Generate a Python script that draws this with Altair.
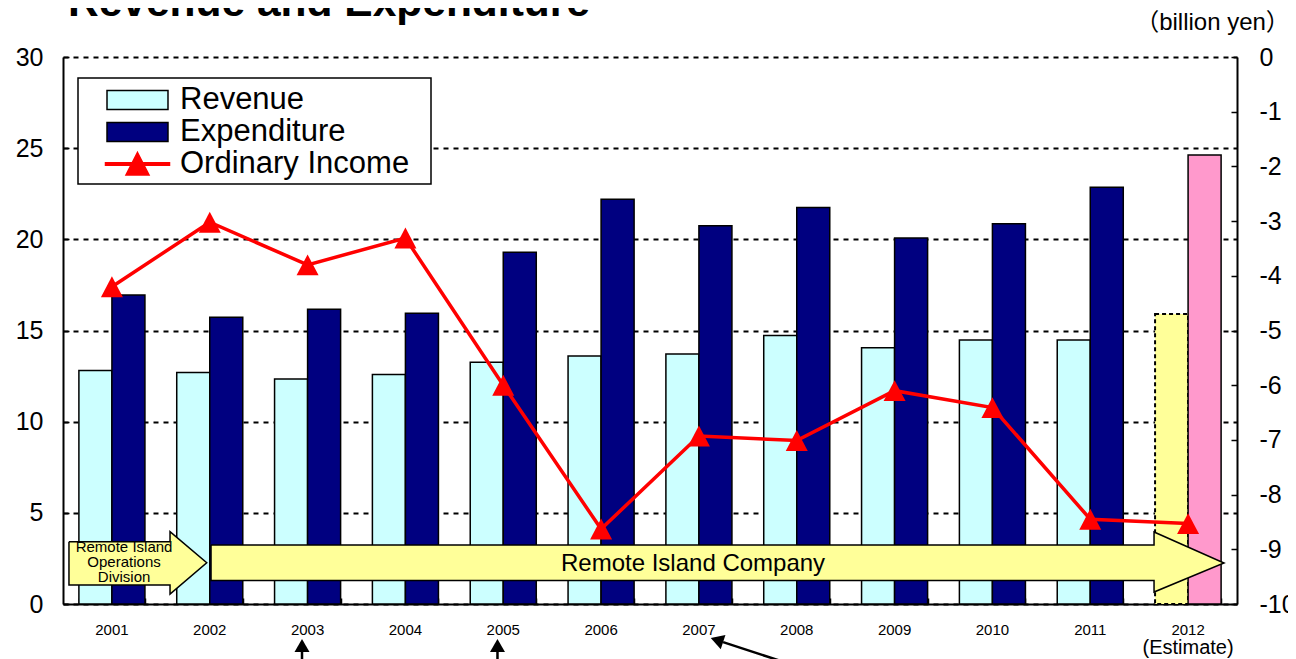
import altair as alt
import pandas as pd

# ---------------- data ----------------
years = ['2001', '2002', '2003', '2004', '2005', '2006',
         '2007', '2008', '2009', '2010', '2011', '2012']
revenue = [12.80, 12.69, 12.34, 12.58, 13.26, 13.60, 13.71, 14.72, 14.06, 14.48, 14.48, 15.91]
expenditure = [16.95, 15.72, 16.16, 15.94, 19.29, 22.20, 20.75, 21.74, 20.07, 20.86, 22.85, 24.63]
ordinary_income = [-4.20, -3.02, -3.80, -3.31, -6.00, -8.63, -6.93, -7.01, -6.10, -6.41, -8.45, -8.53]
estimate_year = '2012'

chart_title = 'Revenue and Expenditure'
series_names = ['Revenue', 'Expenditure', 'Ordinary Income']
series_fill = ['#CCFFFF', '#000080', '#FF0000']
series_stroke = ['black', 'black', '#FF0000']

left_ticks = [0, 5, 10, 15, 20, 25, 30]
right_ticks = [0, -1, -2, -3, -4, -5, -6, -7, -8, -9, -10]

# annotations (x: category position 1..12, y: left axis units)
division_arrow_x = [0.561, 1.594, 1.594, 1.969, 1.594, 1.594, 0.561, 0.561]
division_arrow_y = [3.417, 3.417, 3.965, 2.265, 0.548, 1.042, 1.042, 3.417]
company_arrow_x = [2.013, 11.652, 11.652, 12.367, 11.652, 11.652, 2.013, 2.013]
company_arrow_y = [3.236, 3.236, 3.949, 2.249, 0.658, 1.289, 1.289, 3.236]

note_texts = ['Remote Island\nOperations\nDivision', 'Remote Island Company', '(Estimate)']
note_x = [1.124, 6.94, 12.0]
note_y = [3.15, 2.194, -2.41]
note_size = [15, 24, 20]

title_x = 0.551
title_y = 32.25

pointer_head_x = [2.943, 4.941, 7.184]
pointer_head_y = [-2.276, -2.276, -1.975]
pointer_angle = [0, 0, 288.2]
pointer_from_x = [2.943, 4.941, 7.247]
pointer_from_y = [-2.63, -2.63, -2.09]
pointer_to_x = [2.943, 4.941, 7.931]
pointer_to_y = [-3.40, -3.40, -3.29]

FONT = 'Liberation Sans'
W, H = 1174, 547

# ---------------- frames ----------------
bars_df = pd.DataFrame({
    'year': years * 2,
    'series': ['Revenue'] * len(years) + ['Expenditure'] * len(years),
    'value': revenue + expenditure,
})
oi_df = pd.DataFrame({'year': years, 'ordinary_income': ordinary_income})

poly_rows = []
for name, xs_, ys_ in [('division', division_arrow_x, division_arrow_y),
                       ('company', company_arrow_x, company_arrow_y)]:
    for i, (a, b) in enumerate(zip(xs_, ys_)):
        poly_rows.append({'shape': name, 'i': i, 'x': a, 'y': b})
poly_df = pd.DataFrame(poly_rows)
note_df = pd.DataFrame({'text': note_texts, 'x': note_x, 'y': note_y, 'fs': note_size})
title_df = pd.DataFrame({'text': [chart_title], 'x': [title_x], 'y': [title_y]})
head_df = pd.DataFrame({'x': pointer_head_x, 'y': pointer_head_y, 'angle': pointer_angle})
rule_df = pd.DataFrame({'x': pointer_from_x, 'y': pointer_from_y,
                        'x2': pointer_to_x, 'y2': pointer_to_y})
legend_df = pd.DataFrame({'series': series_names})

# ---------------- scales ----------------
def band_x():
    return alt.Scale(domain=years, paddingInner=0.325, paddingOuter=0.1625)

y_left = alt.Scale(domain=[0, 30], nice=False, zero=True)
y_right = alt.Scale(domain=[-10, 0], nice=False, zero=False)
x_off = alt.XOffset('series:N', scale=alt.Scale(domain=['Revenue', 'Expenditure']))

# ---------------- axes ----------------
bottom_axis = alt.Axis(orient='bottom', title=None, labelAngle=0, labelFontSize=15,
                       labelColor='black', labelFont=FONT, labelPadding=18,
                       ticks=False, tickSize=0, domain=True, domainColor='black',
                       domainWidth=2, grid=False)
bottom_ticks = alt.Axis(orient='top', offset=-H, title=None, labels=False, domain=False,
                        grid=False, ticks=True, tickSize=6, tickColor='black',
                        tickWidth=1.5, tickBand='extent')
left_axis = alt.Axis(orient='left', values=left_ticks, title=None, grid=True,
                     gridColor='black', gridDash=[5, 5], gridWidth=1.8, gridOpacity=1,
                     domain=True, domainColor='black', domainWidth=2,
                     ticks=False, tickSize=0, labelFontSize=25, labelColor='black',
                     labelFont=FONT, labelPadding=20)
left_ticks_axis = alt.Axis(orient='right', offset=-W, values=left_ticks, title=None,
                           grid=False, domain=False, labels=False, ticks=True,
                           tickSize=6, tickColor='black', tickWidth=1.5)
right_axis = alt.Axis(orient='right', values=right_ticks, grid=False, domain=True,
                      domainColor='black', domainWidth=2, ticks=False, tickSize=0,
                      labelFontSize=25, labelColor='black', labelFont=FONT,
                      labelPadding=22,
                      labelExpr="datum.value == 0 ? '0' : '-' + abs(datum.value)",
                      title='（billion yen）', titleAngle=0, titleX=-25, titleY=-35,
                      titleAlign='center', titleBaseline='middle', titleFontSize=24,
                      titleFontWeight='normal', titleColor='black',
                      titleFont='Liberation Sans, Noto Sans CJK JP')
right_ticks_axis = alt.Axis(orient='left', offset=-W, values=right_ticks, title=None,
                            grid=False, domain=False, labels=False, ticks=True,
                            tickSize=6, tickColor='black', tickWidth=1.5)

# ---------------- bars (left axis) ----------------
base_bars = alt.Chart(bars_df)


def bar_layer(series, estimate, fill, axis_x, axis_y, dash=None):
    test = f"datum.series == '{series}' && datum.year {'==' if estimate else '!='} '{estimate_year}'"
    kw = dict(fill=fill, stroke='black', strokeWidth=1.5)
    if dash:
        kw.update(strokeDash=dash, strokeWidth=2)
    return base_bars.transform_filter(test).mark_bar(**kw).encode(
        x=alt.X('year:N', scale=band_x(), axis=axis_x),
        xOffset=x_off,
        y=alt.Y('value:Q', scale=y_left, axis=axis_y),
    )


bars = alt.layer(
    bar_layer('Revenue', False, '#CCFFFF', bottom_axis, left_axis),
    bar_layer('Revenue', True, '#FFFF99', None, None, dash=[4, 3]),
    bar_layer('Expenditure', False, '#000080', bottom_ticks, left_ticks_axis),
    bar_layer('Expenditure', True, '#FF99CC', None, None),
).resolve_axis(x='independent', y='independent')

# ---------------- annotations ----------------
xc = alt.Scale(domain=[0.5, 12.5], nice=False, zero=False)
yc = alt.Scale(domain=[0, 30], nice=False, zero=False)
ax = alt.X('x:Q', scale=xc, axis=None)
ay = alt.Y('y:Q', scale=yc, axis=None)

arrows = alt.Chart(poly_df).mark_line(
    fill='#FFFF99', stroke='black', strokeWidth=1.5, strokeJoin='miter'
).encode(x=ax, y=ay, detail='shape:N', order='i:Q')

notes = alt.Chart(note_df).mark_text(
    font=FONT, color='black', align='center', baseline='middle', lineBreak='\n', lineHeight=15
).encode(x=ax, y=ay, text='text:N', size=alt.Size('fs:Q', scale=None))

title_text = alt.Chart(title_df).mark_text(
    font=FONT, fontSize=42.5, fontWeight='bold', color='black',
    align='left', baseline='alphabetic'
).encode(x=ax, y=ay, text='text:N')

pointer_lines = alt.Chart(rule_df).mark_rule(color='black', strokeWidth=2.5).encode(
    x=ax, y=ay, x2='x2:Q', y2='y2:Q')
pointer_heads = alt.Chart(head_df).mark_point(
    shape='triangle-up', filled=True, color='black', size=225, opacity=1
).encode(x=ax, y=ay, angle=alt.Angle('angle:Q', scale=None))

annotations = alt.layer(arrows, notes, title_text, pointer_lines, pointer_heads)

# ---------------- ordinary income (right axis) ----------------
tri = 'M0,-0.95L1,0.95L-1,0.95Z'
oi_line = alt.Chart(oi_df).mark_line(color='#FF0000', strokeWidth=3.5).encode(
    x=alt.X('year:N', scale=band_x(), axis=None),
    y=alt.Y('ordinary_income:Q', scale=y_right, axis=right_axis),
)
oi_pts = alt.Chart(oi_df).mark_point(
    shape=tri, size=484, filled=True, color='#FF0000', opacity=1
).encode(
    x=alt.X('year:N', scale=band_x(), axis=None),
    y=alt.Y('ordinary_income:Q', scale=y_right, axis=right_ticks_axis),
)
income = alt.layer(oi_line, oi_pts).resolve_axis(y='independent')

# ---------------- legend ----------------
pad = 'M-3.406,-1.0625L-3.406,-1.0625M17.84,-1.0625L17.84,-1.0625'
rect_sym = pad + 'M-1.906,-0.594H1.906V0.594H-1.906Z'
line_sym = pad + 'M-2,-0.08H2V0.08H-2ZM0,-0.72L0.72,0.69L-0.72,0.69Z'
legend_spec = alt.Legend(
    orient='none', legendX=15, legendY=21, title=None,
    labelFontSize=31, labelFont=FONT, labelColor='black', labelLimit=500,
    labelOffset=25.5, symbolOffset=37.5, symbolSize=1024, symbolStrokeWidth=1.5,
    padding=5, rowPadding=-4, fillColor='white', strokeColor='black',
)
legend_layer = alt.Chart(legend_df).transform_filter('false').mark_point(
    filled=True, opacity=1
).encode(
    fill=alt.Fill('series:N', scale=alt.Scale(domain=series_names, range=series_fill),
                  legend=legend_spec),
    stroke=alt.Stroke('series:N', scale=alt.Scale(domain=series_names, range=series_stroke),
                      legend=legend_spec),
    shape=alt.Shape('series:N', scale=alt.Scale(domain=series_names,
                                                range=[rect_sym, rect_sym, line_sym]),
                    legend=legend_spec),
)

chart = alt.layer(bars, annotations, income, legend_layer).resolve_scale(
    x='independent', y='independent'
).resolve_axis(
    x='independent', y='independent'
).properties(
    width=W, height=H,
    autosize=alt.AutoSizeParams(type='none'),
    padding={'left': 55, 'top': 49, 'right': 51, 'bottom': 55},
).configure(
    font=FONT, background='white'
).configure_view(
    stroke=None
).configure_legend(
    strokeWidth=1.5
)

chart.save('out.html', embed_options={'renderer': 'svg', 'actions': False})
